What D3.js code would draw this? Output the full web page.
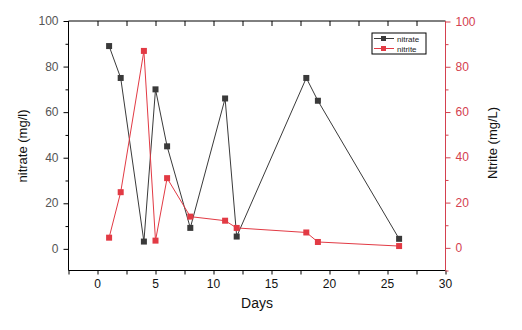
<!DOCTYPE html>
<html><head><meta charset="utf-8">
<script src="https://cdn.jsdelivr.net/npm/d3@7"></script>
<style>body{margin:0;background:#fff}svg{display:block}text{font-family:"Liberation Sans",Arial,sans-serif}</style>
</head><body><svg id="c" width="522" height="330"></svg>
<script>
const days = [1, 2, 4, 5, 6, 8, 11, 12, 18, 19, 26];
const nitrate = [89, 75, 3.2, 70, 45, 9.2, 66, 5.4, 75, 65, 4.4];
const nitrite = [4.5, 24.6, 87, 3.2, 30.8, 13.8, 12, 8.8, 6.8, 2.6, 0.8];
const xTicks = [0, 5, 10, 15, 20, 25, 30];
const yTicks = [0, 20, 40, 60, 80, 100];
const seriesNames = ["nitrate", "nitrite"];

const svg = d3.select("#c");
const L = 68.5, R = 445.5, T = 21, B = 270.5;
const x = d3.scaleLinear().domain([-2.5, 30]).range([L, R]);
const yL = d3.scaleLinear().domain([-9.5, 100]).range([B, T]);
const yR = d3.scaleLinear().domain([-10, 100]).range([B, T + 0.5]);
const black = "#3a3a3a", red = "#e23a44", redAxis = "#d4414f";

const minorX = d3.range(-2.5, 30.01, 2.5);
const minorY = d3.range(-10, 100.01, 10).filter(v => v >= -9.5);

// frame
svg.append("line").attr("x1", L).attr("x2", R).attr("y1", T).attr("y2", T).attr("stroke", "#000");
svg.append("line").attr("x1", L).attr("x2", R).attr("y1", B).attr("y2", B).attr("stroke", "#000");
svg.append("line").attr("x1", L).attr("x2", L).attr("y1", T).attr("y2", B).attr("stroke", "#000");

// bottom axis
const gx = svg.append("g").attr("transform", `translate(0,${B})`);
gx.call(d3.axisBottom(x).tickValues(minorX).tickSize(4).tickFormat(""))
  .call(g => g.select(".domain").remove()).selectAll("line").attr("stroke", "#000");
gx.selectAll(".lab").data(xTicks).join("text").attr("x", d => x(d)).attr("y", 17)
  .attr("text-anchor", "middle").attr("font-size", 12).attr("fill", "#111").text(d => d);
// top axis ticks inward
const gt = svg.append("g").attr("transform", `translate(0,${T})`);
gt.call(d3.axisBottom(x).tickValues(minorX.filter(v => v > -2.5 && v < 30)).tickSize(5).tickFormat(""))
  .call(g => g.select(".domain").remove()).selectAll("line").attr("stroke", "#000");

// left axis
const gl = svg.append("g").attr("transform", `translate(${L},0)`);
gl.call(d3.axisLeft(yL).tickValues(yTicks).tickSize(5).tickFormat(""))
  .call(g => g.select(".domain").remove()).selectAll("line").attr("stroke", "#000");
gl.append("g").call(d3.axisLeft(yL).tickValues(minorY.filter(v => v % 20 !== 0)).tickSize(3).tickFormat(""))
  .call(g => g.select(".domain").remove()).selectAll("line").attr("stroke", "#000");
gl.selectAll(".lab").data(yTicks).join("text").attr("x", -10).attr("y", d => yL(d) + 4)
  .attr("text-anchor", "end").attr("font-size", 12).attr("fill", "#555").text(d => d);

// right axis
const gr = svg.append("g").attr("transform", `translate(${R},0)`);
gr.append("line").attr("x1", 0).attr("x2", 0).attr("y1", T).attr("y2", B).attr("stroke", redAxis);
gr.append("g").call(d3.axisRight(yR).tickValues(yTicks).tickSize(5).tickFormat(""))
  .call(g => g.select(".domain").remove()).selectAll("line").attr("stroke", redAxis);
gr.append("g").call(d3.axisRight(yR).tickValues([-10, 10, 30, 50, 70, 90]).tickSize(3).tickFormat(""))
  .call(g => g.select(".domain").remove()).selectAll("line").attr("stroke", redAxis);
gr.selectAll(".lab").data(yTicks).join("text").attr("x", 10).attr("y", d => yR(d) + 4)
  .attr("text-anchor", "start").attr("font-size", 12).attr("fill", redAxis).text(d => d);

// axis titles
svg.append("text").attr("transform", "translate(27,146) rotate(-90)").attr("text-anchor", "middle")
  .attr("font-size", 13).attr("fill", "#111").text("nitrate (mg/l)");
svg.append("text").attr("transform", "translate(497,143) rotate(-90)").attr("text-anchor", "middle")
  .attr("font-size", 13).attr("fill", "#111").text("Ntrite (mg/L)");
svg.append("text").attr("x", 257).attr("y", 308).attr("text-anchor", "middle")
  .attr("font-size", 14).attr("fill", "#111").text("Days");

// series
function series(vals, y, col) {
  const pts = days.map((d, i) => [x(d), y(vals[i])]);
  svg.append("path").attr("d", d3.line()(pts)).attr("fill", "none").attr("stroke", col).attr("stroke-width", 1);
  svg.append("g").selectAll("rect").data(pts).join("rect")
    .attr("x", p => p[0] - 3).attr("y", p => p[1] - 3).attr("width", 6).attr("height", 6).attr("fill", col);
}
series(nitrate, yL, black);
series(nitrite, yR, red);

// legend
const lg = svg.append("g").attr("transform", "translate(372,33)");
lg.append("rect").attr("width", 54).attr("height", 21).attr("fill", "#fff").attr("stroke", "#000").attr("stroke-width", 1);
seriesNames.forEach((n, i) => {
  const cy = 5.5 + i * 10, col = i ? red : black;
  lg.append("line").attr("x1", 2).attr("x2", 22).attr("y1", cy).attr("y2", cy).attr("stroke", col);
  lg.append("rect").attr("x", 9).attr("y", cy - 2.5).attr("width", 5).attr("height", 5).attr("fill", col);
  lg.append("text").attr("x", 25).attr("y", cy + 3).attr("font-size", 8).attr("fill", "#222").text(n);
});
</script></body></html>
